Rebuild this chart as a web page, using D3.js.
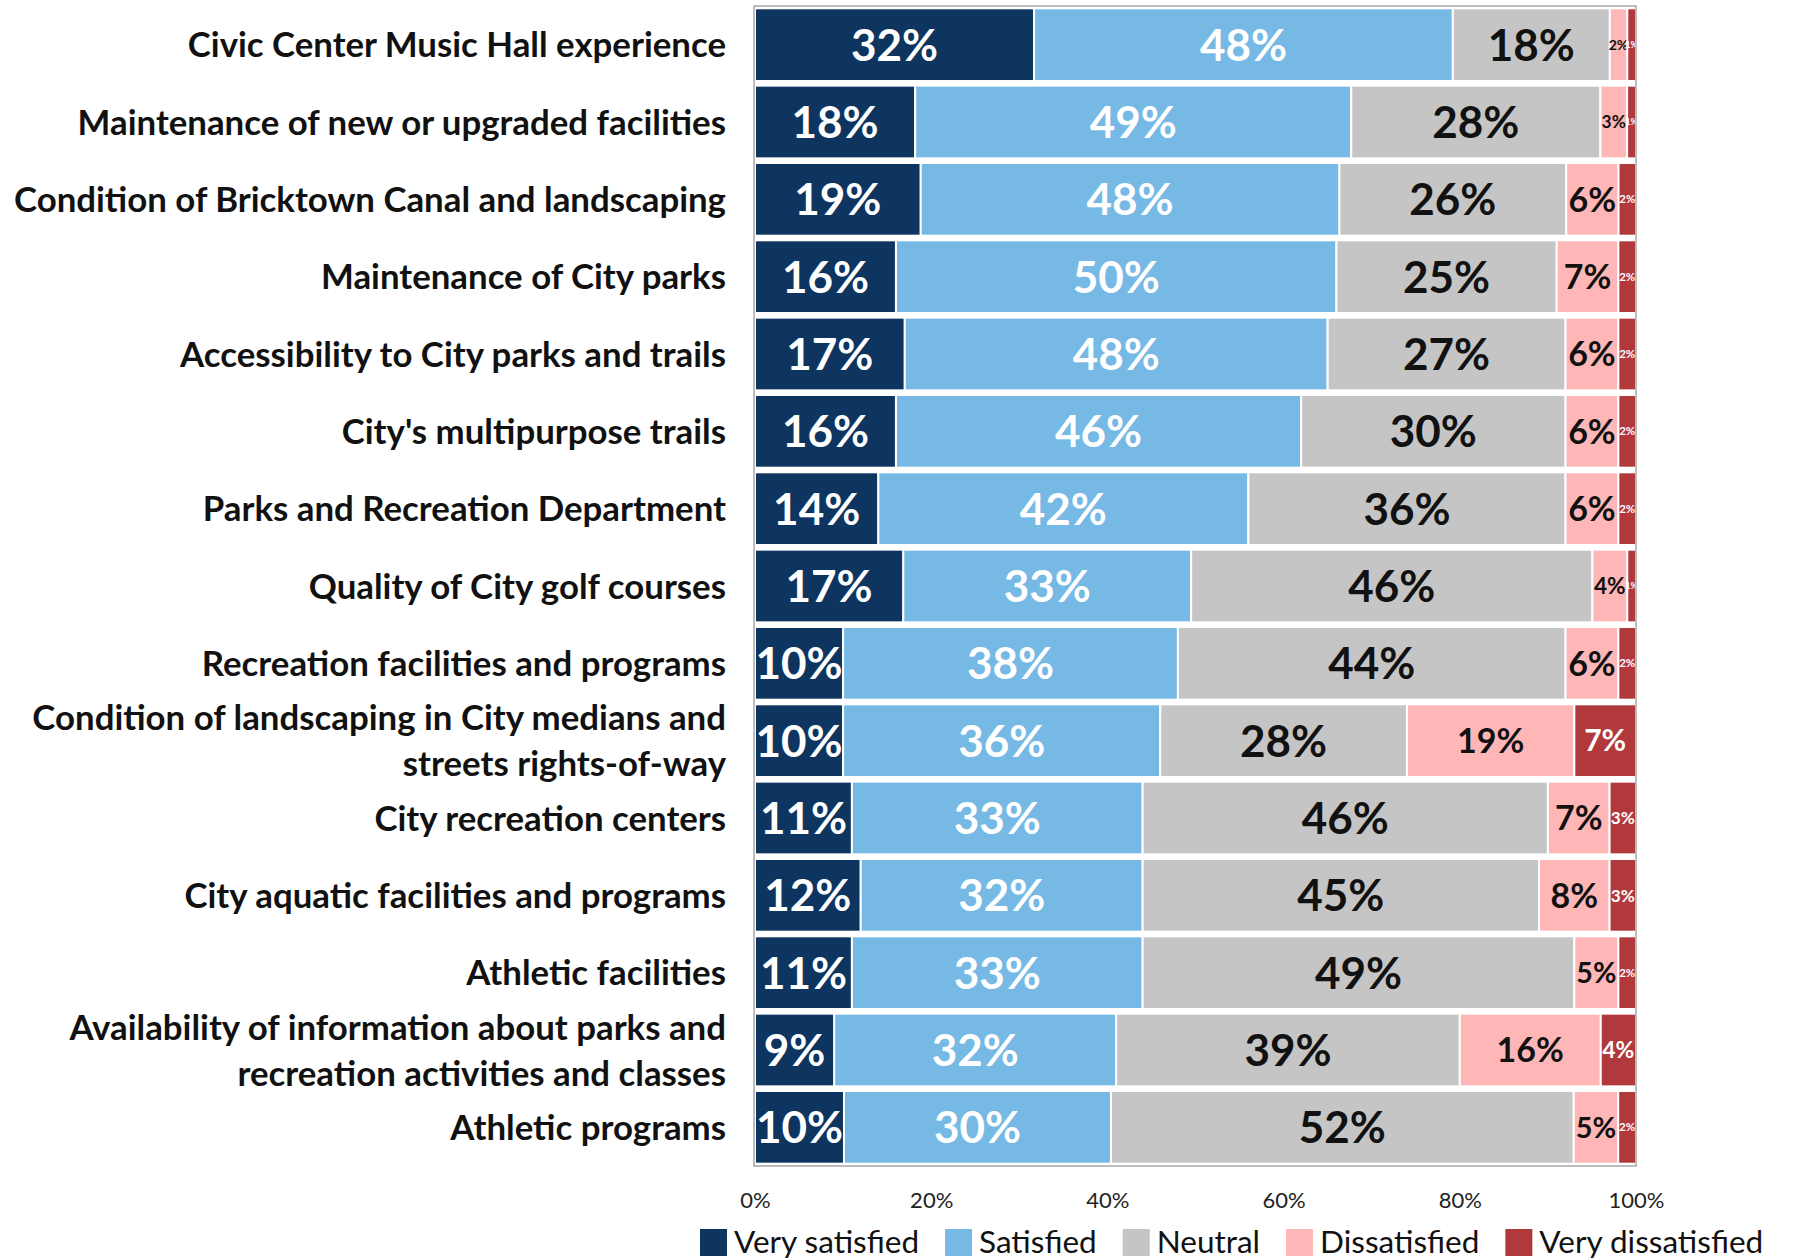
<!DOCTYPE html>
<html lang="en">
<head>
  <meta charset="UTF-8">
  <script src="https://d3js.org/d3.v7.min.js"></script>
  <style>
    body { margin: 0; background: #fff; }
    text { font-family: Lato, "Open Sans", sans-serif; }
  </style>
  <title>Satisfaction with parks and recreation</title>
</head>
<body>
  <svg id="chart" width="1798" height="1260"></svg>
  <script>
    // categories, top to bottom ("\n" marks a line break in the label)
    var categories = [
      'Civic Center Music Hall experience',
      'Maintenance of new or upgraded facilities',
      'Condition of Bricktown Canal and landscaping',
      'Maintenance of City parks',
      'Accessibility to City parks and trails',
      "City's multipurpose trails",
      'Parks and Recreation Department',
      'Quality of City golf courses',
      'Recreation facilities and programs',
      'Condition of landscaping in City medians and\nstreets rights-of-way',
      'City recreation centers',
      'City aquatic facilities and programs',
      'Athletic facilities',
      'Availability of information about parks and\nrecreation activities and classes',
      'Athletic programs'
    ];
    var seriesNames = ['Very satisfied', 'Satisfied', 'Neutral', 'Dissatisfied', 'Very dissatisfied'];
    var verySatisfied    = [32, 18, 19, 16, 17, 16, 14, 17, 10, 10, 11, 12, 11, 9, 10];
    var satisfied        = [48, 49, 48, 50, 48, 46, 42, 33, 38, 36, 33, 32, 33, 32, 30];
    var neutral          = [18, 28, 26, 25, 27, 30, 36, 46, 44, 28, 46, 45, 49, 39, 52];
    var dissatisfied     = [2, 3, 6, 7, 6, 6, 6, 4, 6, 19, 7, 8, 5, 16, 5];
    var veryDissatisfied = [1, 1, 2, 2, 2, 2, 2, 1, 2, 7, 3, 3, 2, 4, 2];
    var tickValues = [0, 0.2, 0.4, 0.6, 0.8, 1];

    function draw() {
      var colors = ['#0e3560', '#77b9e5', '#c5c5c5', '#ffb6b6', '#b1393c'];
      var labelColors = ['#fff', '#fff', '#111', '#111', '#fff'];
      var maxFont = [44, 44, 44, 34, 30];
      var minFont = [8, 8, 8, 14, 9];

      var rows = categories.map(function(c, i) {
        return { cat: c, s0: verySatisfied[i], s1: satisfied[i], s2: neutral[i], s3: dissatisfied[i], s4: veryDissatisfied[i] };
      });
      var keys = ['s0', 's1', 's2', 's3', 's4'];
      var stacked = d3.stack().keys(keys).offset(d3.stackOffsetExpand)(rows);

      var pLeft = 755, pRight = 1636, pTop = 6, pBottom = 1166;
      var x = d3.scaleLinear().domain([0, 1]).range([pLeft, pRight]);
      var y = d3.scaleBand().domain(categories).range([pTop, pBottom]).paddingInner(0.06).paddingOuter(0.03);

      var svg = d3.select('#chart');

      var groups = svg.selectAll('g.series').data(stacked).enter().append('g')
        .attr('class', 'series');

      groups.each(function(s, si) {
        var g = d3.select(this);
        g.selectAll('rect').data(s).enter().append('rect')
          .attr('x', function(d) { return x(d[0]); })
          .attr('y', function(d) { return y(d.data.cat); })
          .attr('width', function(d) { return x(d[1]) - x(d[0]); })
          .attr('height', y.bandwidth())
          .attr('fill', colors[si])
          .attr('stroke', '#fff').attr('stroke-width', 2);
      });

      groups.each(function(s, si) {
        d3.select(this).selectAll('text').data(s).enter().append('text')
          .attr('x', function(d) { return (x(d[0]) + x(d[1])) / 2; })
          .attr('y', function(d) { return y(d.data.cat) + y.bandwidth() / 2; })
          .attr('dy', '0.36em')
          .attr('text-anchor', 'middle')
          .attr('font-weight', 'bold')
          .attr('fill', labelColors[si])
          .attr('font-size', function(d) {
            var w = x(d[1]) - x(d[0]);
            return Math.max(minFont[si], Math.min(maxFont[si], w * 0.65)) + 'px';
          })
          .text(function(d) { return d.data[s.key] + '%'; });
      });

      // plot frame
      svg.append('rect')
        .attr('x', pLeft - 1).attr('y', pTop).attr('width', pRight - pLeft + 1).attr('height', pBottom - pTop)
        .attr('fill', 'none').attr('stroke', '#a6a6a6').attr('stroke-width', 1.5);

      // category labels
      var cats = svg.append('g');
      categories.forEach(function(c) {
        var lines = c.split('\n');
        var cy = y(c) + y.bandwidth() / 2;
        var t = cats.append('text')
          .attr('x', 726).attr('y', cy)
          .attr('text-anchor', 'end').attr('font-weight', 'bold')
          .attr('font-size', '34.8px').attr('fill', '#111');
        lines.forEach(function(l, li) {
          t.append('tspan').attr('x', 726)
            .attr('y', cy + (li - (lines.length - 1) / 2) * 46)
            .attr('dy', '0.36em').text(l);
        });
      });

      // x axis
      var axis = svg.append('g').attr('transform', 'translate(0,' + pBottom + ')')
        .call(d3.axisBottom(x).tickValues(tickValues).tickFormat(d3.format('.0%')).tickSize(0).tickPadding(26));
      axis.select('.domain').remove();
      axis.selectAll('text').attr('font-size', '22px').attr('fill', '#222')
        .style('font-family', 'Lato, "Open Sans", sans-serif');

      // legend
      var legend = svg.append('g');
      var lx = 700;
      seriesNames.forEach(function(name, i) {
        legend.append('rect').attr('x', lx).attr('y', 1229).attr('width', 27).attr('height', 27)
          .attr('fill', colors[i]);
        var t = legend.append('text').attr('x', lx + 34).attr('y', 1242).attr('dy', '0.36em')
          .attr('font-size', '31.5px').attr('fill', '#111').text(name);
        lx += 34 + t.node().getComputedTextLength() + 26;
      });
    }
    draw();
  </script>
</body>
</html>
